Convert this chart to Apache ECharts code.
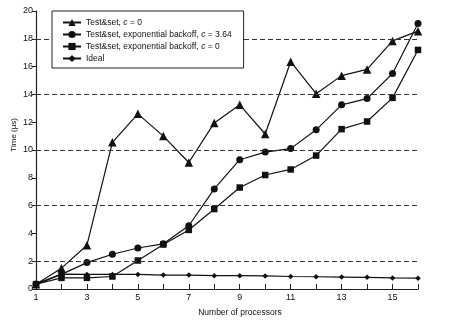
<!DOCTYPE html>
<html><head><meta charset="utf-8">
<script src="https://cdn.jsdelivr.net/npm/echarts@6/dist/echarts.min.js"></script>
<style>html,body{margin:0;padding:0;background:#fff}#c{width:452px;height:322px}</style>
</head><body><div id="c"></div>
<script>
var processors = [1,2,3,4,5,6,7,8,9,10,11,12,13,14,15,16];
var testSet = [0.35,1.5,3.15,10.55,12.6,11.0,9.1,11.95,13.25,11.15,16.35,14.05,15.35,15.8,17.85,18.55];
var backoff364 = [0.35,1.05,1.9,2.5,2.95,3.25,4.55,7.2,9.3,9.85,10.1,11.45,13.25,13.7,15.5,19.1];
var backoff0 = [0.35,0.8,0.8,0.9,2.05,3.2,4.25,5.75,7.3,8.2,8.6,9.6,11.5,12.05,13.75,17.2];
var ideal = [0.35,1.07,1.05,1.05,1.05,1.0,1.0,0.96,0.96,0.94,0.9,0.88,0.86,0.84,0.8,0.78];
var seriesNames = ['Test&set, c = 0','Test&set, exponential backoff, c = 3.64','Test&set, exponential backoff, c = 0','Ideal'];
var dashedLevels = [2,6,10,14,18];
var yTicks = {min:0,max:20,interval:2};

var FONT = '"Liberation Sans",sans-serif';
function pairs(v){return processors.map(function(x,i){return [x,v[i]];});}
var symbols = ['triangle','circle','rect','diamond'];
var sizes = [8.5,7,6.5,5.5];
var datas = [testSet,backoff364,backoff0,ideal];
var series = datas.map(function(d,i){
  return {name:seriesNames[i],type:'line',data:pairs(d),symbol:symbols[i],symbolSize:sizes[i],
    showAllSymbol:true,itemStyle:{color:'#111'},lineStyle:{color:'#111',width:1.2},z:3,animation:false};
});
series.push({type:'line',data:[],silent:true,animation:false,
  markLine:{silent:true,symbol:'none',label:{show:false},
    lineStyle:{color:'#333',type:[5,3],width:1},
    data:dashedLevels.map(function(v){return {yAxis:v};})}});

var chart = echarts.init(document.getElementById('c'));
chart.setOption({
  animation:false,
  backgroundColor:'#fff',
  grid:{left:36,right:34,top:11,bottom:31},
  legend:{orient:'vertical',left:52,top:11,data:seriesNames,
    backgroundColor:'#fff',borderColor:'#222',borderWidth:1,
    padding:[7,12,5,10],itemGap:3,itemWidth:18,itemHeight:9,
    textStyle:{fontFamily:FONT,fontSize:8.5,color:'#111',rich:{i:{fontFamily:FONT,fontSize:8.5,fontStyle:'italic',color:'#111'}}},
    formatter:function(n){return n.replace(' c = ',' {i|c} = ');},
    z:10},
  xAxis:{type:'value',min:1,max:16,interval:1,
    name:'Number of processors',nameLocation:'middle',nameGap:19,
    nameTextStyle:{fontFamily:FONT,fontSize:8.5,color:'#111',padding:[0,0,0,26]},
    axisLine:{lineStyle:{color:'#222',width:1.2}},
    axisTick:{inside:true,length:5,lineStyle:{color:'#222'}},
    splitLine:{show:false},
    axisLabel:{fontFamily:FONT,fontSize:9,color:'#111',margin:4,
      formatter:function(v){return (v%2===1)?String(v):'';}}},
  yAxis:{type:'value',min:yTicks.min,max:yTicks.max,interval:yTicks.interval,
    axisLine:{show:true,lineStyle:{color:'#222',width:1.2}},
    axisTick:{show:true,length:4,lineStyle:{color:'#222'}},
    splitLine:{show:false},
    axisLabel:{fontFamily:FONT,fontSize:9,color:'#111',margin:3}},
  graphic:[{type:'text',left:10,top:118,rotation:Math.PI/2,
    style:{text:'Time (µs)',font:'8px '+FONT,fill:'#111'}}],
  series:series
});
</script></body></html>
